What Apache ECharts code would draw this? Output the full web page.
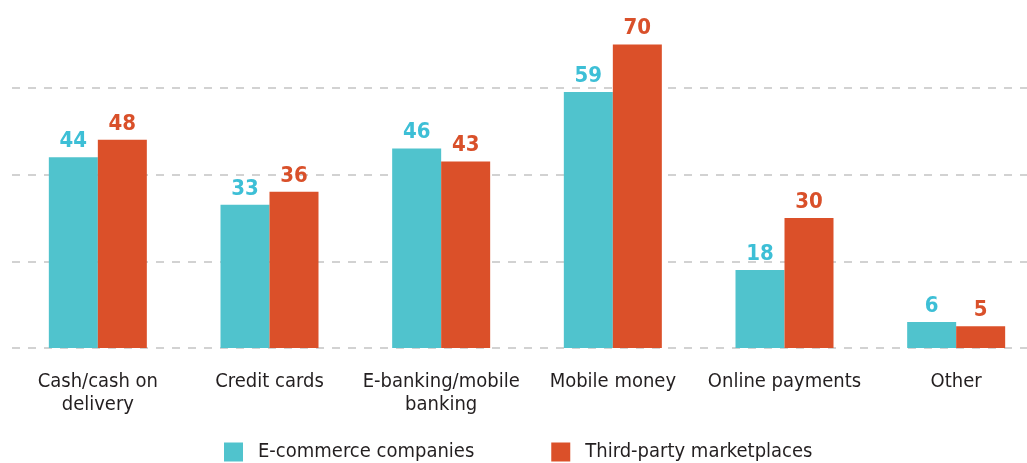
<!DOCTYPE html>
<html>
<head>
<meta charset="utf-8">
<script src="https://cdn.jsdelivr.net/npm/echarts@6/dist/echarts.min.js"></script>
<style>
  html, body { margin: 0; padding: 0; background: #fff; }
  #chart { width: 1027px; height: 463px; }
</style>
</head>
<body>
<div id="chart"></div>
<script>
// payment methods, share in %
const categories = ['Cash/cash on\ndelivery', 'Credit cards', 'E-banking/mobile\nbanking', 'Mobile money', 'Online payments', 'Other'];
const ecommerce = [44, 33, 46, 59, 18, 6];
const marketplaces = [48, 36, 43, 70, 30, 5];

const font = '"DejaVu Sans Condensed", "Liberation Sans Narrow", "Liberation Sans", sans-serif';
const teal = '#50c3cd';
const red = '#db5029';

const myChart = echarts.init(document.getElementById('chart'));
const option = {
  animation: false,
  grid: {
    left: 12,
    width: 1030,
    top: 1,
    bottom: 115,
    outerBoundsMode: 'none'
  },
  legend: {
    left: 224,
    top: 442,
    padding: 0,
    itemWidth: 19,
    itemHeight: 19,
    itemGap: 77,
    icon: 'rect',
    textStyle: {
      fontFamily: font,
      fontSize: 20,
      color: '#231f20',
      padding: [0, 0, 0, 10]
    },
    data: ['E-commerce companies', 'Third-party marketplaces']
  },
  xAxis: {
    type: 'category',
    data: categories,
    axisLine: { show: false },
    axisTick: { show: false },
    axisLabel: {
      interval: 0,
      margin: 22,
      fontFamily: font,
      fontSize: 20,
      lineHeight: 23,
      color: '#231f20'
    }
  },
  yAxis: {
    type: 'value',
    min: 0,
    max: 80,
    interval: 20,
    axisLabel: { show: false },
    axisLine: { show: false },
    axisTick: { show: false },
    splitLine: {
      lineStyle: {
        color: ['#c4c4c4', '#c4c4c4', '#c4c4c4', '#c4c4c4', 'rgba(0,0,0,0)'],
        type: [8, 8],
        width: 1.5
      }
    }
  },
  series: [
    {
      name: 'E-commerce companies',
      type: 'bar',
      data: ecommerce,
      barWidth: 49,
      barGap: '0%',
      itemStyle: { color: teal },
      label: {
        show: true,
        position: 'top',
        distance: 5,
        fontFamily: font,
        fontWeight: 'bold',
        fontSize: 22,
        color: '#3dbfd6'
      }
    },
    {
      name: 'Third-party marketplaces',
      type: 'bar',
      data: marketplaces,
      barWidth: 49,
      barGap: '0%',
      itemStyle: { color: red },
      label: {
        show: true,
        position: 'top',
        distance: 5,
        fontFamily: font,
        fontWeight: 'bold',
        fontSize: 22,
        color: '#d9502a'
      }
    }
  ]
};
myChart.setOption(option);
</script>
</body>
</html>
